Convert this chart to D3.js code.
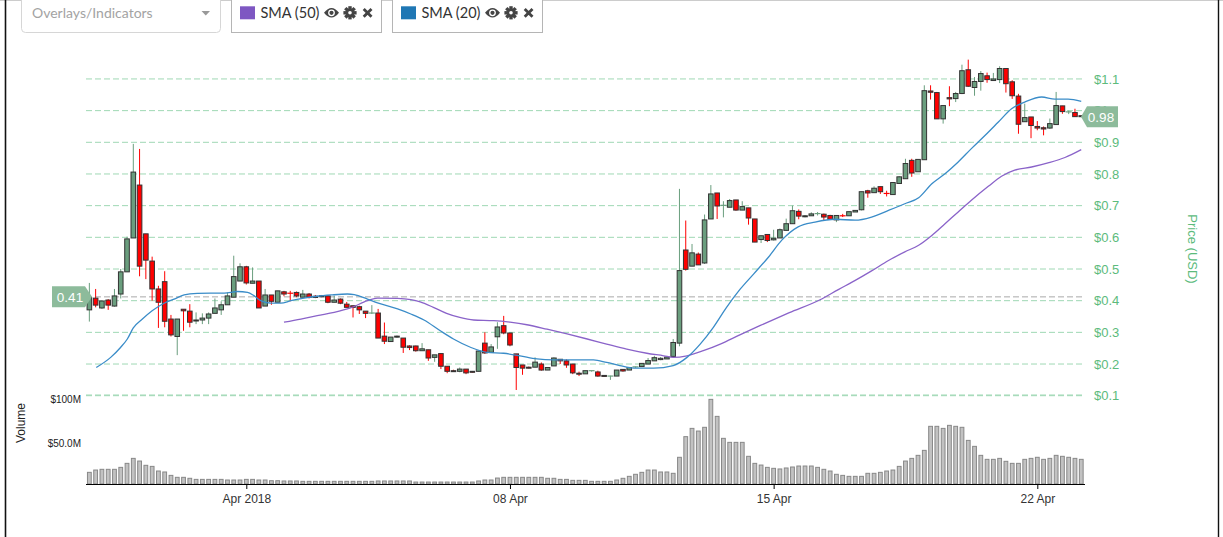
<!DOCTYPE html>
<html><head><meta charset="utf-8">
<script src="https://cdn.jsdelivr.net/npm/d3@7"></script>
<style>body{margin:0;background:#fff;} svg{display:block;}</style>
</head><body><svg id="c" width="1223" height="537"></svg>
<script>
// ---- data (4-hour candles starting 2018-03-27 20:00 UTC) ----
const startTimeUTC = Date.UTC(2018, 2, 27, 20);
const intervalHours = 4;
const opens = [0.371,0.408,0.377,0.402,0.383,0.421,0.491,0.598,0.765,0.611,
0.525,0.437,0.460,0.342,0.287,0.373,0.367,0.336,0.339,0.345,
0.360,0.371,0.387,0.411,0.462,0.507,0.455,0.462,0.383,0.418,
0.395,0.428,0.4245,0.426,0.411,0.421,0.414,0.4155,0.415,0.395,
0.405,0.389,0.384,0.381,0.367,0.360,0.361,0.288,0.271,0.285,
0.282,0.257,0.257,0.242,0.245,0.221,0.233,0.193,0.179,0.177,
0.184,0.177,0.177,0.266,0.237,0.286,0.321,0.298,0.232,0.197,
0.190,0.190,0.200,0.181,0.194,0.215,0.210,0.200,0.171,0.169,
0.178,0.175,0.164,0.161,0.162,0.183,0.181,0.190,0.192,0.200,
0.210,0.214,0.216,0.224,0.266,0.560,0.509,0.547,0.519,0.658,
0.740,0.700,0.695,0.718,0.686,0.693,0.658,0.593,0.609,0.592,
0.598,0.622,0.643,0.682,0.666,0.668,0.674,0.673,0.669,0.655,
0.669,0.668,0.680,0.687,0.747,0.741,0.760,0.7395,0.735,0.770,
0.785,0.843,0.807,0.845,1.062,1.057,0.974,1.041,1.038,1.054,
1.129,1.073,1.092,1.110,1.095,1.098,1.133,1.091,1.046,0.965,
0.980,0.950,0.946,0.945,0.956,1.015,0.995,0.994,0.984];
const highs = [0.456,0.437,0.402,0.405,0.437,0.500,0.602,0.895,0.879,0.611,
0.539,0.447,0.493,0.355,0.342,0.373,0.389,0.363,0.360,0.363,
0.407,0.398,0.426,0.542,0.518,0.510,0.505,0.462,0.437,0.418,
0.431,0.431,0.431,0.429,0.434,0.424,0.418,0.418,0.418,0.416,
0.407,0.396,0.384,0.384,0.367,0.386,0.374,0.331,0.278,0.290,
0.282,0.259,0.258,0.266,0.245,0.229,0.233,0.193,0.182,0.189,
0.184,0.178,0.241,0.300,0.263,0.332,0.352,0.298,0.232,0.197,
0.192,0.221,0.205,0.189,0.221,0.215,0.215,0.200,0.176,0.179,
0.180,0.179,0.165,0.163,0.181,0.183,0.191,0.192,0.202,0.219,
0.226,0.222,0.225,0.279,0.753,0.653,0.579,0.552,0.672,0.765,
0.740,0.714,0.721,0.718,0.714,0.693,0.658,0.605,0.609,0.624,
0.628,0.659,0.700,0.688,0.670,0.679,0.680,0.675,0.671,0.669,
0.674,0.681,0.685,0.744,0.750,0.761,0.760,0.747,0.773,0.793,
0.848,0.848,0.846,1.080,1.080,1.059,1.016,1.077,1.059,1.145,
1.161,1.106,1.125,1.120,1.119,1.140,1.133,1.096,1.053,1.022,
0.980,0.967,0.950,0.975,1.059,1.015,1.000,1.006,0.984];
const lows = [0.334,0.379,0.374,0.371,0.381,0.407,0.491,0.598,0.477,0.468,
0.400,0.314,0.316,0.287,0.228,0.305,0.316,0.326,0.326,0.326,
0.360,0.355,0.387,0.411,0.462,0.451,0.455,0.377,0.383,0.387,
0.395,0.414,0.398,0.411,0.411,0.407,0.408,0.411,0.392,0.395,
0.389,0.379,0.347,0.358,0.345,0.358,0.282,0.263,0.271,0.283,
0.235,0.244,0.239,0.242,0.210,0.207,0.184,0.171,0.175,0.174,
0.168,0.173,0.177,0.232,0.237,0.248,0.294,0.256,0.118,0.166,
0.186,0.190,0.179,0.181,0.194,0.200,0.188,0.168,0.162,0.169,
0.176,0.160,0.160,0.150,0.162,0.176,0.181,0.188,0.192,0.200,
0.210,0.212,0.216,0.224,0.256,0.495,0.509,0.513,0.516,0.658,
0.658,0.663,0.695,0.684,0.686,0.640,0.585,0.582,0.585,0.590,
0.598,0.622,0.643,0.657,0.663,0.668,0.669,0.652,0.657,0.648,
0.664,0.668,0.680,0.685,0.725,0.741,0.737,0.729,0.735,0.770,
0.785,0.791,0.807,0.845,1.035,0.974,0.959,1.014,1.027,1.052,
1.075,1.047,1.063,1.088,1.095,1.087,1.057,1.037,0.927,0.965,
0.913,0.938,0.922,0.942,0.956,0.990,0.989,0.981,0.981];
const closes = [0.410,0.386,0.399,0.386,0.415,0.491,0.595,0.806,0.509,0.528,
0.437,0.395,0.335,0.292,0.342,0.368,0.332,0.339,0.345,0.358,
0.377,0.387,0.415,0.476,0.507,0.456,0.462,0.377,0.418,0.398,
0.431,0.421,0.4235,0.415,0.421,0.411,0.410,0.4135,0.395,0.402,
0.392,0.379,0.379,0.371,0.360,0.361,0.282,0.272,0.285,0.288,
0.253,0.252,0.242,0.248,0.219,0.229,0.193,0.177,0.177,0.184,
0.172,0.175,0.241,0.235,0.254,0.317,0.298,0.260,0.189,0.187,
0.188,0.206,0.181,0.189,0.219,0.210,0.197,0.172,0.169,0.179,
0.179,0.162,0.161,0.162,0.181,0.178,0.189,0.191,0.202,0.211,
0.220,0.218,0.222,0.268,0.495,0.499,0.551,0.513,0.655,0.737,
0.699,0.701,0.716,0.686,0.697,0.661,0.585,0.605,0.590,0.597,
0.624,0.643,0.684,0.667,0.668,0.674,0.675,0.664,0.657,0.669,
0.668,0.681,0.685,0.744,0.740,0.755,0.744,0.7385,0.773,0.791,
0.833,0.803,0.846,1.063,1.058,0.974,1.016,1.037,1.054,1.126,
1.077,1.092,1.117,1.098,1.100,1.133,1.085,1.047,0.957,0.978,
0.953,0.945,0.942,0.959,1.016,0.997,0.996,0.981,0.981];
// volume in millions of USD
const volumes = [13.1,15.7,16.5,16.5,16.5,18.7,23.2,28.8,25.8,21.0,
19.8,14.6,13.5,9.7,7.5,7.5,6.4,5.2,5.2,5.2,
5.2,5.2,4.5,4.5,4.5,5.2,5.2,4.5,4.5,3.7,
3.7,3.4,3.4,3.4,3.0,3.0,3.0,3.0,3.0,3.0,
3.0,3.0,3.0,3.0,3.0,3.0,3.4,3.4,3.4,3.4,
3.4,3.4,2.2,2.2,2.2,2.2,2.2,2.2,2.2,2.2,
2.2,2.2,3.4,4.5,4.5,6.7,7.5,7.5,7.5,7.5,
7.5,7.5,7.5,6.4,6.4,5.2,5.2,4.1,4.1,4.1,
3.0,3.0,3.0,3.0,4.5,6.4,8.6,10.9,13.1,15.7,
15.7,13.5,13.5,12.0,30.0,53.2,62.5,59.5,63.7,95.1,
76.0,51.3,46.8,46.8,46.8,31.1,23.2,21.3,18.7,17.6,
16.9,18.0,19.1,20.2,20.2,20.2,18.7,16.5,14.6,10.9,
9.7,8.6,8.6,8.6,12.0,12.0,13.1,14.6,15.7,19.8,
25.8,28.8,32.2,37.8,64.8,64.8,62.5,65.9,64.8,63.7,
49.0,42.3,32.2,27.7,27.7,28.8,25.5,23.2,23.2,27.7,
28.8,30.0,27.7,28.8,32.2,31.1,30.0,28.8,27.7];
// SMA overlays: [candle index, value]
const sma20 = [[1.1,0.189],[3.4,0.221],[5.0,0.253],[6.05,0.279],[7.0,0.314],[8.45,0.342],[10.0,0.368],[11.9,0.392],[13.5,0.405],[15.1,0.418],[17.2,0.423],[19.3,0.424],[21.5,0.424],[23.6,0.429],[25.2,0.426],[26.2,0.416],[27.3,0.400],[28.9,0.392],[30.5,0.392],[32.1,0.400],[34.2,0.408],[36.3,0.414],[38.5,0.418],[41.1,0.421],[42.2,0.419],[44.3,0.405],[45.9,0.393],[49.1,0.374],[51.2,0.358],[53.3,0.339],[55.9,0.305],[58.0,0.279],[60.7,0.253],[63.3,0.237],[66.0,0.234],[68.6,0.226],[71.3,0.216],[73.9,0.213],[76.6,0.213],[80.3,0.213],[82.4,0.205],[84.5,0.195],[86.7,0.187],[89.9,0.187],[93.0,0.195],[95.2,0.221],[97.3,0.263],[99.4,0.316],[101.5,0.379],[103.7,0.437],[105.8,0.484],[108.2,0.538],[110.3,0.591],[112.9,0.633],[115.6,0.648],[118.8,0.657],[122.0,0.654],[124.6,0.664],[127.3,0.685],[129.9,0.706],[132.1,0.725],[134.2,0.769],[136.3,0.801],[138.4,0.838],[140.5,0.880],[142.7,0.922],[144.8,0.964],[146.9,1.006],[149.0,1.027],[151.7,1.043],[153.8,1.036],[155.9,1.036],[158.0,1.029]];
const sma50 = [[31.0,0.332],[33.7,0.342],[36.3,0.353],[39.0,0.363],[41.6,0.377],[44.3,0.400],[45.9,0.408],[49.1,0.407],[51.2,0.403],[52.7,0.396],[54.8,0.379],[56.9,0.360],[59.0,0.347],[61.2,0.339],[64.4,0.337],[67.0,0.332],[69.7,0.324],[72.9,0.310],[76.1,0.295],[79.3,0.279],[82.4,0.263],[85.6,0.247],[88.8,0.234],[91.5,0.226],[93.0,0.221],[95.2,0.226],[97.8,0.242],[100.5,0.263],[103.7,0.293],[106.8,0.321],[111.5,0.362],[116.4,0.403],[119.3,0.435],[122.0,0.464],[124.6,0.494],[127.3,0.527],[129.9,0.554],[132.1,0.575],[134.2,0.606],[136.3,0.643],[138.4,0.680],[140.5,0.717],[143.2,0.761],[145.3,0.793],[147.4,0.812],[150.1,0.822],[152.7,0.835],[155.4,0.852],[158.0,0.877]];
const priceTicks = [0.1,0.2,0.3,0.4,0.5,0.6,0.7,0.8,0.9,1.0,1.1];
const volumeTicks = [50, 100];
const xTickDates = ["2018-04-01","2018-04-08","2018-04-15","2018-04-22"];
const xTickLabels = ["Apr 2018","08 Apr","15 Apr","22 Apr"];
const firstPrice = 0.412, firstPriceLabel = "0.41";
const lastPriceLabel = "0.98";
const legendItems = [{name:"SMA (50)", color:"#7e57c2"},{name:"SMA (20)", color:"#1f77b4"}];

// ---- drawing ----
const svg = d3.select("#c");
const FONT = "'Liberation Sans', Arial, sans-serif";
const timeOf = i => new Date(startTimeUTC + i * intervalHours * 3600e3);
const x = d3.scaleUtc().domain([new Date(Date.UTC(2018,3,1)), new Date(Date.UTC(2018,3,22))]).range([246.3, 1037.3]);
const y = d3.scaleLinear().domain([0.1, 1.1]).range([395.7, 78.95]);
const vy = d3.scaleLinear().domain([0, 100]).range([484, 395]);
const plotL = 86, plotR = 1085;

// frame
svg.append("line").attr("x1",0).attr("x2",1223).attr("y1",0.5).attr("y2",0.5).attr("stroke","#ccc");
svg.append("line").attr("x1",5.5).attr("x2",5.5).attr("y1",0).attr("y2",537).attr("stroke","#111").attr("stroke-width",1.6);
svg.append("line").attr("x1",1218.5).attr("x2",1218.5).attr("y1",0).attr("y2",537).attr("stroke","#111").attr("stroke-width",1.4);

// top toolbar
const tb = svg.append("g");
tb.append("rect").attr("x",21.5).attr("y",-6).attr("width",199).attr("height",38.5).attr("rx",4)
  .attr("fill","#fff").attr("stroke","#d6d6d6");
tb.append("text").attr("x",32).attr("y",18).text("Overlays/Indicators")
  .attr("font-family","Lato, sans-serif").attr("font-size",14).attr("fill","#a3a3a3");
tb.append("path").attr("d","M201.5,11 L210,11 L205.75,15.5Z").attr("fill","#999");
legendItems.forEach((it, k) => {
  const bx = k === 0 ? 231.5 : 392.5;
  const g = tb.append("g").attr("transform", `translate(${bx},0)`);
  g.append("rect").attr("x",0).attr("y",-6).attr("width",150).attr("height",38.5).attr("fill","#fff").attr("stroke","#b5b5b5");
  g.append("rect").attr("x",8.5).attr("y",6.3).attr("width",15).attr("height",13).attr("fill",it.color);
  g.append("text").attr("x",29).attr("y",18.3).text(it.name)
    .attr("font-family","Lato, sans-serif").attr("font-size",14.5).attr("fill","#333");
  // eye
  const e = g.append("g").attr("transform","translate(100,12.8)");
  e.append("path").attr("d","M-7.5,0 Q0,-9.5 7.5,0 Q0,9.5 -7.5,0Z").attr("fill","#444");
  e.append("circle").attr("r",3.4).attr("fill","#fff");
  e.append("circle").attr("r",2.1).attr("fill","#444");
  // gear
  const gr = g.append("g").attr("transform","translate(118.5,12.8)");
  for (let a = 0; a < 4; a++) gr.append("rect").attr("x",-1.7).attr("y",-6.6).attr("width",3.4).attr("height",13.2)
    .attr("fill","#444").attr("transform",`rotate(${a*45})`);
  gr.append("circle").attr("r",4.4).attr("fill","#444");
  gr.append("circle").attr("r",1.8).attr("fill","#fff");
  // close x
  g.append("path").attr("d","M132.2,9 L140,16.8 M140,9 L132.2,16.8").attr("stroke","#444").attr("stroke-width",2.8);
});

// gridlines
svg.append("g").selectAll("line").data(priceTicks).join("line")
  .attr("x1",plotL).attr("x2",plotR).attr("y1",d=>y(d)).attr("y2",d=>y(d))
  .attr("stroke","#9fd8b4").attr("stroke-dasharray","6,3").attr("stroke-width",1);
svg.append("line").attr("x1",plotL).attr("x2",plotR).attr("y1",vy(100)).attr("y2",vy(100))
  .attr("stroke","#9fd8b4").attr("stroke-dasharray","6,3");
// reference (first price) line
svg.append("line").attr("x1",plotL).attr("x2",plotR).attr("y1",y(firstPrice)).attr("y2",y(firstPrice))
  .attr("stroke","#aaa").attr("stroke-dasharray","6,3");

// price labels
svg.append("g").selectAll("text").data(priceTicks).join("text")
  .attr("x",1094).attr("y",d=>y(d)).attr("dy","0.36em")
  .text(d=>"$" + (+d.toFixed(1)))
  .attr("font-family",FONT).attr("font-size",13).attr("fill","#5cbb7c");
svg.append("text").attr("transform","translate(1193,249) rotate(90)").attr("text-anchor","middle").attr("dy","0.35em")
  .text("Price (USD)").attr("font-family",FONT).attr("font-size",13).attr("fill","#5cbb7c");

// volume
const idx = d3.range(closes.length);
svg.append("g").selectAll("rect").data(idx).join("rect")
  .attr("x",i=>x(timeOf(i))-1.9).attr("width",3.8)
  .attr("y",i=>vy(volumes[i])).attr("height",i=>vy(0)-vy(volumes[i]))
  .attr("fill","#c2c2c2").attr("stroke","#888").attr("stroke-width",1);
svg.append("g").selectAll("text").data(volumeTicks).join("text")
  .attr("x",81).attr("y",d=>vy(d)+4).attr("dy","0.35em").attr("text-anchor","end")
  .text(d=> d === 100 ? "$100M" : "$50.0M")
  .attr("font-family",FONT).attr("font-size",10).attr("fill","#222");
svg.append("text").attr("transform","translate(21,423) rotate(-90)").attr("text-anchor","middle").attr("dy","0.35em")
  .text("Volume").attr("font-family",FONT).attr("font-size",12).attr("fill","#222");

// x axis
const xAxis = d3.axisBottom(x)
  .tickValues(xTickDates.map(s => new Date(s + "T00:00:00Z")))
  .tickFormat((d,k) => xTickLabels[k]).tickSize(5).tickSizeOuter(0);
const ax = svg.append("g").attr("transform","translate(0,484)").call(xAxis);
ax.select(".domain").attr("d",`M${plotL},0.5H${plotR}`).attr("stroke","#000");
ax.selectAll(".tick line").attr("stroke","#000");
ax.selectAll(".tick text").attr("font-family",FONT).attr("font-size",12).attr("fill","#333").attr("dy","0.9em");

// candles
const UP = "#6a9e7e", DOWN = "#ff0000";
const cg = svg.append("g");
idx.forEach(i => {
  const o = opens[i], c = closes[i], up = c >= o;
  const col = up ? UP : DOWN;
  const cx = x(timeOf(i));
  cg.append("line").attr("x1",cx).attr("x2",cx).attr("y1",y(highs[i])).attr("y2",y(lows[i]))
    .attr("stroke",col).attr("stroke-width",1);
  if (Math.abs(o - c) < 0.0015) {
    cg.append("line").attr("x1",cx-3).attr("x2",cx+3).attr("y1",y(c)).attr("y2",y(c))
      .attr("stroke",col).attr("stroke-width",1.2);
  } else {
    const top = y(Math.max(o,c)), bot = y(Math.min(o,c));
    cg.append("rect").attr("x",cx-2.3).attr("width",4.6).attr("y",top).attr("height",Math.max(1,bot-top))
      .attr("fill",col).attr("stroke","#333").attr("stroke-width",1);
  }
});

// SMA lines
const line = d3.line().x(d=>x(timeOf(d[0]))).y(d=>y(d[1])).curve(d3.curveMonotoneX);
svg.append("path").datum(sma50).attr("d",line).attr("fill","none").attr("stroke","#8a63c9").attr("stroke-width",1.3);
svg.append("path").datum(sma20).attr("d",line).attr("fill","none").attr("stroke","#3a8cc8").attr("stroke-width",1.3);

// price flags
const fy = y(firstPrice);
svg.append("path").attr("d",`M52,${fy-10.5}H85L92,${fy}L85,${fy+10.5}H52Z`).attr("fill","#8dbb9b");
svg.append("text").attr("x",70).attr("y",fy).attr("dy","0.36em").attr("text-anchor","middle").text(firstPriceLabel)
  .attr("font-family",FONT).attr("font-size",13.5).attr("fill","#fff");
const ly = y(closes[closes.length-1]);
svg.append("path").attr("d",`M1081,${ly}L1087,${ly-10.5}H1118V${ly+10.5}H1087Z`).attr("fill","#8dbb9b");
svg.append("text").attr("x",1101).attr("y",ly).attr("dy","0.36em").attr("text-anchor","middle").text(lastPriceLabel)
  .attr("font-family",FONT).attr("font-size",13.5).attr("fill","#fff");
</script></body></html>
